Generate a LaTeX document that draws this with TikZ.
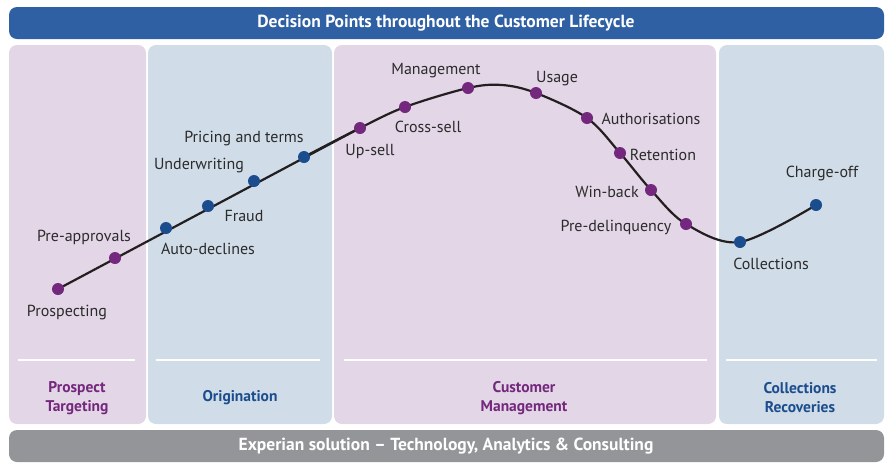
\documentclass[tikz,border=0pt]{standalone}
\usepackage{fontspec}
\setmainfont{PT Sans}
\definecolor{pinkbg}{HTML}{E3D6E7}
\definecolor{bluebg}{HTML}{D0DCE7}
\definecolor{titleblue}{HTML}{2F60A3}
\definecolor{barGray}{HTML}{939598}
\definecolor{expPurple}{HTML}{74287D}
\definecolor{expBlue}{HTML}{1B4D8E}
\definecolor{curveC}{HTML}{231F20}
\definecolor{txt}{HTML}{2B2B2B}
\begin{document}
\begin{tikzpicture}[x=1pt,y=-1pt,
  panel/.style={rounded corners=8pt},
  pdot/.style={circle,fill=expPurple,inner sep=0pt,minimum size=12pt},
  bdot/.style={circle,fill=expBlue,inner sep=0pt,minimum size=12pt},
  lbl/.style={font=\fontsize{16}{18}\selectfont,text=txt,inner sep=0pt,yshift=-2pt},
  phase/.style={font=\fontsize{15.5}{19}\selectfont\bfseries,align=center,inner sep=0pt,yshift=-2pt},
  sep/.style={draw=white,line width=1.2pt}
]
\useasboundingbox (0,0) rectangle (893,475);
% title
\fill[titleblue,panel] (9,7) rectangle (884,39);
\node[font=\fontsize{17.5}{20}\selectfont\bfseries,text=white] (title) at (446,23) {Decision Points throughout the Customer Lifecycle};
% panels
\fill[pinkbg,panel] (9,45) rectangle (146,424);
\fill[bluebg,panel] (148,45) rectangle (332,424);
\fill[pinkbg,panel] (334,45) rectangle (716,424);
\fill[bluebg,panel] (719,45) rectangle (884,424);
% separators
\draw[sep] (18,360) -- (135,360);
\draw[sep] (156,360) -- (320,360);
\draw[sep] (344,360) -- (707,360);
\draw[sep] (726,360) -- (877,360);
% phase labels
\node[phase,text=expPurple] (p1) at (77,396) {Prospect\\Targeting};
\node[phase,text=expBlue] (p2) at (240,396) {Origination};
\node[phase,text=expPurple] (p3) at (524,396) {Customer\\Management};
\node[phase,text=expBlue] (p4) at (800,396) {Collections\\Recoveries};
% bottom bar
\fill[barGray,panel] (9,430) rectangle (884,462);
\node[font=\fontsize{17.5}{20}\selectfont\bfseries,text=white] (foot) at (446,446) {Experian solution – Technology, Analytics \& Consulting};
% coordinates of points
\coordinate (c1) at (58,289);
\coordinate (c2) at (115,258);
\coordinate (c3) at (166,228);
\coordinate (c4) at (208,206);
\coordinate (c5) at (254,181);
\coordinate (c6) at (304,157);
\coordinate (c7) at (360,128);
\coordinate (c8) at (405,107);
\coordinate (c9) at (468,88);
\coordinate (pk) at (502,85);
\coordinate (c10) at (536,93);
\coordinate (c11) at (587,118);
\coordinate (c12) at (620,153);
\coordinate (c13) at (651,190);
\coordinate (c14) at (686,224);
\coordinate (c15) at (740,242);
\coordinate (c16) at (816,205);
% curve
\draw[curveC,line width=2.2pt] (c1) -- (c7);
\draw[curveC,line width=2.2pt] plot[smooth,tension=0.55] coordinates {(c6) (c7) (c8) (c9) (pk) (c10) (c11) (c12) (c13) (c14) (c15) (c16)};
% dots
\node[pdot] (d1) at (c1) {};
\node[pdot] (d2) at (c2) {};
\node[bdot] (d3) at (c3) {};
\node[bdot] (d4) at (c4) {};
\node[bdot] (d5) at (c5) {};
\node[bdot] (d6) at (c6) {};
\node[pdot] (d7) at (c7) {};
\node[pdot] (d8) at (c8) {};
\node[pdot] (d9) at (c9) {};
\node[pdot] (d10) at (c10) {};
\node[pdot] (d11) at (c11) {};
\node[pdot] (d12) at (c12) {};
\node[pdot] (d13) at (c13) {};
\node[pdot] (d14) at (c14) {};
\node[bdot] (d15) at (c15) {};
\node[bdot] (d16) at (c16) {};
% labels
\node[lbl] (l1) at (67,311) {Prospecting};
\node[lbl] (l2) at (84,235) {Pre-approvals};
\node[lbl] (l3) at (208,247) {Auto-declines};
\node[lbl] (l4) at (244,214) {Fraud};
\node[lbl] (l5) at (199,164) {Underwriting};
\node[lbl] (l6) at (244,137) {Pricing and terms};
\node[lbl] (l7) at (370,149) {Up-sell};
\node[lbl] (l8) at (428,125) {Cross-sell};
\node[lbl] (l9) at (436,69) {Management};
\node[lbl] (l10) at (557,77) {Usage};
\node[lbl] (l11) at (651,117) {Authorisations};
\node[lbl] (l12) at (663,153) {Retention};
\node[lbl] (l13) at (607,190) {Win-back};
\node[lbl] (l14) at (616,225) {Pre-delinquency};
\node[lbl] (l15) at (771,262) {Collections};
\node[lbl] (l16) at (822,171) {Charge-off};
\end{tikzpicture}
\end{document}
